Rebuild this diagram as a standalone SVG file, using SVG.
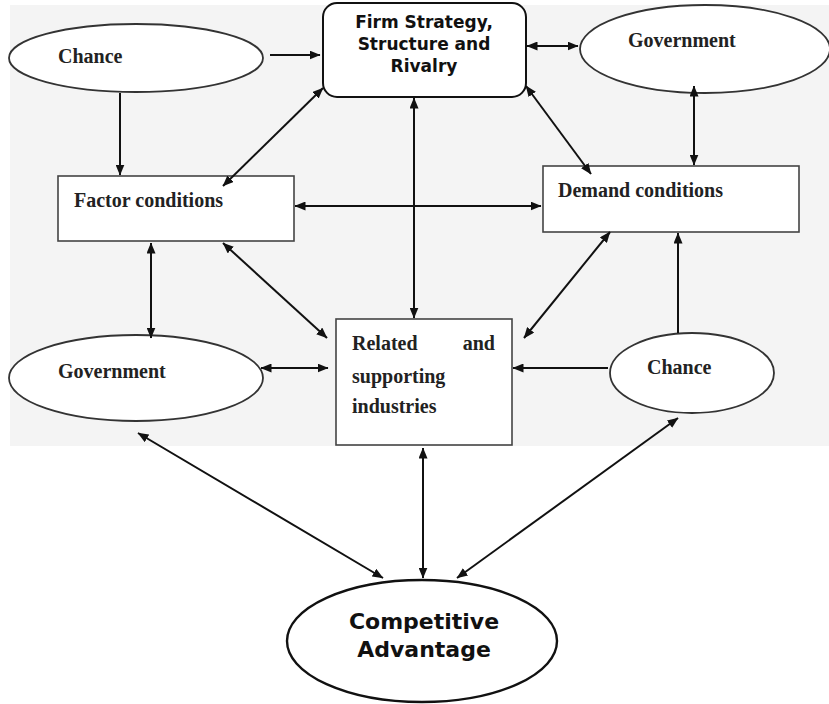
<svg xmlns="http://www.w3.org/2000/svg" width="829" height="704" viewBox="0 0 829 704">
<style>
.bg{fill:#f4f4f4}
.box{fill:#fff;stroke:#444;stroke-width:1.6}
.ell{fill:#fff;stroke:#333;stroke-width:1.8}
.ser{font-family:"Liberation Serif","Times New Roman",serif;font-weight:bold;font-size:20px;fill:#222}
.san{font-family:"DejaVu Sans",Verdana,sans-serif;font-weight:bold;fill:#111}
.cn line{stroke:#111;stroke-width:2;fill:none}
</style>
<defs>
<marker id="ah" viewBox="0 0 11 9" refX="10.5" refY="4.5" markerWidth="11" markerHeight="9" markerUnits="userSpaceOnUse" orient="auto-start-reverse">
<path d="M0,0 L11,4.5 L0,9 z" fill="#111"/>
</marker>
</defs>
<rect class="bg" x="10" y="5" width="819" height="441"/>

<g id="chance-top">
<ellipse class="ell" cx="136" cy="58" rx="127" ry="34"/>
<text class="ser" x="58" y="63">Chance</text>
</g>
<g id="firm">
<rect class="box" x="323" y="3" width="203" height="94" rx="14" style="stroke:#111;stroke-width:2"/>
<text class="san" font-size="17" text-anchor="middle" x="424" y="28">Firm Strategy,</text>
<text class="san" font-size="17" text-anchor="middle" x="424" y="50">Structure and</text>
<text class="san" font-size="17" text-anchor="middle" x="424" y="72">Rivalry</text>
</g>
<g id="government-top">
<ellipse class="ell" cx="705" cy="49" rx="125" ry="44"/>
<text class="ser" x="628" y="47">Government</text>
</g>
<g id="factor">
<rect class="box" x="58" y="176" width="236" height="65"/>
<text class="ser" x="74" y="207">Factor conditions</text>
</g>
<g id="demand">
<rect class="box" x="543" y="166" width="256" height="66"/>
<text class="ser" x="558" y="197">Demand conditions</text>
</g>
<g id="government-left">
<ellipse class="ell" cx="136" cy="378" rx="127" ry="43"/>
<text class="ser" x="58" y="378">Government</text>
</g>
<g id="related">
<rect class="box" x="336" y="319" width="176" height="126"/>
<text class="ser" x="352" y="350">Related</text>
<text class="ser" x="495" y="350" text-anchor="end">and</text>
<text class="ser" x="352" y="383">supporting</text>
<text class="ser" x="352" y="413">industries</text>
</g>
<g id="chance-right">
<ellipse class="ell" cx="692" cy="373" rx="82" ry="40"/>
<text class="ser" x="647" y="374">Chance</text>
</g>
<g id="competitive">
<ellipse class="ell" cx="422" cy="641" rx="135" ry="61" style="stroke:#111;stroke-width:2.4"/>
<text class="san" font-size="22" text-anchor="middle" x="424" y="629">Competitive</text>
<text class="san" font-size="22" text-anchor="middle" x="424" y="657">Advantage</text>
</g>

<g id="connectors" class="cn">
<line x1="270" y1="55" x2="320" y2="55" marker-end="url(#ah)"/>
<line x1="120" y1="93" x2="120" y2="175" marker-end="url(#ah)"/>
<line x1="323" y1="88" x2="223" y2="186" marker-start="url(#ah)" marker-end="url(#ah)"/>
<line x1="527" y1="46" x2="578" y2="46" marker-start="url(#ah)" marker-end="url(#ah)"/>
<line x1="694" y1="86" x2="694" y2="165" marker-start="url(#ah)" marker-end="url(#ah)"/>
<line x1="526" y1="86" x2="591" y2="174" marker-start="url(#ah)" marker-end="url(#ah)"/>
<line x1="295" y1="206" x2="541" y2="206" marker-start="url(#ah)" marker-end="url(#ah)"/>
<line x1="414" y1="98" x2="414" y2="318" marker-start="url(#ah)" marker-end="url(#ah)"/>
<line x1="151" y1="243" x2="151" y2="338" marker-start="url(#ah)" marker-end="url(#ah)"/>
<line x1="223" y1="243" x2="327" y2="338" marker-start="url(#ah)" marker-end="url(#ah)"/>
<line x1="261" y1="368" x2="328" y2="368" marker-start="url(#ah)" marker-end="url(#ah)"/>
<line x1="610" y1="232" x2="524" y2="338" marker-start="url(#ah)" marker-end="url(#ah)"/>
<line x1="608" y1="368" x2="513" y2="368" marker-end="url(#ah)"/>
<line x1="678" y1="333" x2="678" y2="233" marker-end="url(#ah)"/>
<line x1="138" y1="433" x2="383" y2="578" marker-start="url(#ah)" marker-end="url(#ah)"/>
<line x1="423" y1="448" x2="423" y2="578" marker-start="url(#ah)" marker-end="url(#ah)"/>
<line x1="678" y1="418" x2="457" y2="578" marker-start="url(#ah)" marker-end="url(#ah)"/>
</g>
</svg>
